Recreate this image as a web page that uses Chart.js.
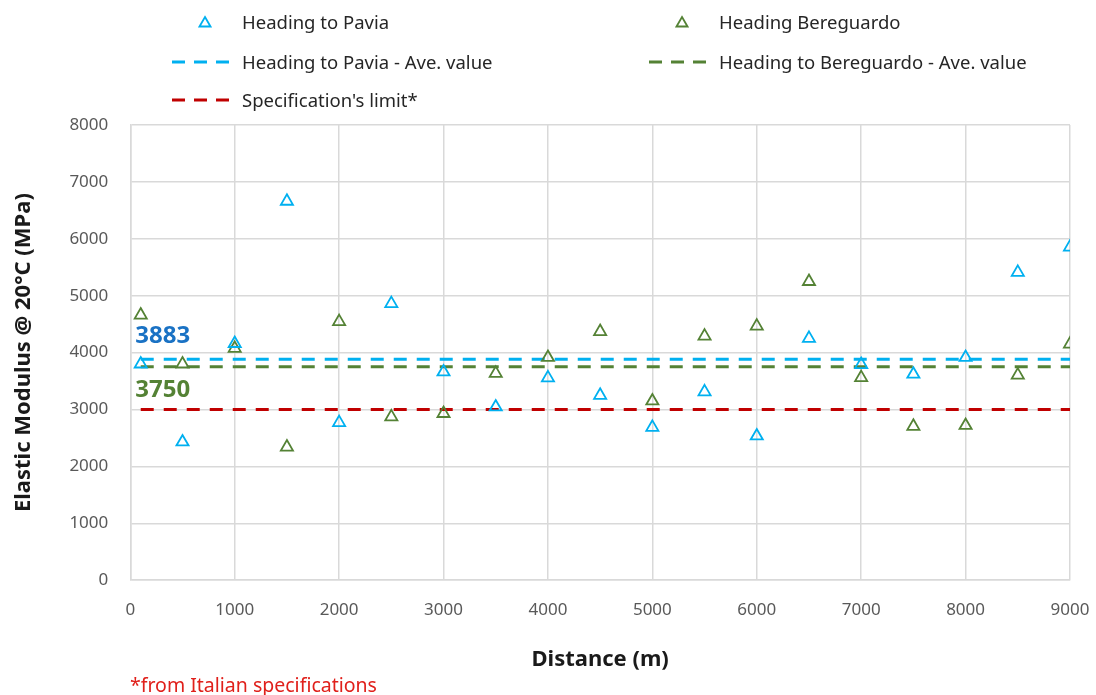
<!DOCTYPE html>
<html>
<head>
<meta charset="utf-8">
<script src="https://cdn.jsdelivr.net/npm/chart.js@4/dist/chart.umd.min.js"></script>
<style>
  body { margin: 0; background: #fff; font-family: "Noto Sans", sans-serif; }
  #wrap { position: relative; width: 1096px; height: 695px; }
  #chart { position: absolute; left: 0; top: 0; }
  .leg { position: absolute; font-size: 18.5px; color: #262626; white-space: nowrap; line-height: 22px; }
  .leg svg { position: absolute; }
  #note { position: absolute; left: 130px; top: 671px; font-size: 19.5px; color: #e0201b; }
</style>
</head>
<body>
<div id="wrap">
  <canvas id="chart" width="1096" height="695"></canvas>
  <div id="legend"></div>
  <div id="note">*from Italian specifications</div>
</div>
<script>
// Distances along the road (m)
const distances = [100, 500, 1000, 1500, 2000, 2500, 3000, 3500, 4000, 4500,
                   5000, 5500, 6000, 6500, 7000, 7500, 8000, 8500, 9000];
// Elastic modulus @ 20°C (MPa)
const pavia = [3800, 2430, 4160, 6660, 2770, 4860, 3660, 3045, 3555, 3250,
               2685, 3310, 2535, 4250, 3790, 3620, 3915, 5410, 5855];
const bereguardo = [4660, 3800, 4075, 2340, 4545, 2870, 2930, 3635, 3915, 4370,
                    3150, 4290, 4465, 5250, 3560, 2705, 2720, 3605, 4150];
const paviaAvg = 3883;
const bereguardoAvg = 3750;
const specLimit = 3000;
const lineRange = [100, 9000];

const xTicks = [0, 1000, 2000, 3000, 4000, 5000, 6000, 7000, 8000, 9000];
const yTicks = [0, 1000, 2000, 3000, 4000, 5000, 6000, 7000, 8000];

const blue = '#00b0f0';
const green = '#548235';
const red = '#c00000';

function pts(xs, ys) {
    return xs.map(function(x, i) { return { x: x, y: ys[i] }; });
}
function flat(v) {
    return lineRange.map(function(x) { return { x: x, y: v }; });
}

// Legend (HTML)
const legendItems = [
    { text: 'Heading to Pavia', color: blue, kind: 'tri', x: 242, y: 11 },
    { text: 'Heading Bereguardo', color: green, kind: 'tri', x: 719, y: 11 },
    { text: 'Heading to Pavia - Ave. value', color: blue, kind: 'dash', x: 242, y: 51 },
    { text: 'Heading to Bereguardo - Ave. value', color: green, kind: 'dash', x: 719, y: 51 },
    { text: "Specification's limit*", color: red, kind: 'dash', x: 242, y: 89 }
];
const legend = document.getElementById('legend');
legendItems.forEach(function(it) {
    const d = document.createElement('div');
    d.className = 'leg';
    d.style.left = it.x + 'px';
    d.style.top = it.y + 'px';
    d.textContent = it.text;
    let svg;
    if (it.kind === 'tri') {
        svg = '<svg width="14" height="14" style="left:-44px;top:4px">' +
              '<polygon points="7,2 12.5,11.5 1.5,11.5" fill="none" stroke="' + it.color + '" stroke-width="1.8"/></svg>';
    } else {
        svg = '<svg width="66" height="6" style="left:-70px;top:8px">' +
              '<line x1="0" y1="3" x2="64" y2="3" stroke="' + it.color + '" stroke-width="3" stroke-dasharray="13,9"/></svg>';
    }
    d.insertAdjacentHTML('beforeend', svg);
    legend.appendChild(d);
});

// average value labels
const avgLabels = {
    id: 'avgLabels',
    afterDatasetsDraw: function(chart) {
        const ctx = chart.ctx;
        const xs = chart.scales.x, ys = chart.scales.y;
        ctx.save();
        ctx.font = 'bold 24px "Noto Sans", sans-serif';
        ctx.textBaseline = 'middle';
        ctx.textAlign = 'left';
        ctx.fillStyle = '#1a72c4';
        ctx.fillText(String(paviaAvg), xs.getPixelForValue(0) + 5, ys.getPixelForValue(paviaAvg) - 23);
        ctx.fillStyle = green;
        ctx.fillText(String(bereguardoAvg), xs.getPixelForValue(0) + 5, ys.getPixelForValue(bereguardoAvg) + 23);
        ctx.restore();
    }
};

const tickFont = { family: '"Noto Sans", sans-serif', size: 17 };
const titleFont = { family: '"Noto Sans", sans-serif', size: 22, weight: 'bold' };
const plain = function(v) { return String(v); };

new Chart(document.getElementById('chart').getContext('2d'), {
    type: 'scatter',
    data: {
        datasets: [
            { label: 'Heading to Pavia', data: pts(distances, pavia), showLine: false,
              pointStyle: 'triangle', pointRadius: 7, pointBorderWidth: 1.8,
              borderColor: blue, backgroundColor: 'rgba(0,0,0,0)', order: 1 },
            { label: 'Heading Bereguardo', data: pts(distances, bereguardo), showLine: false,
              pointStyle: 'triangle', pointRadius: 7, pointBorderWidth: 1.8,
              borderColor: green, backgroundColor: 'rgba(0,0,0,0)', order: 2 },
            { label: 'Heading to Pavia - Ave. value', data: flat(paviaAvg), showLine: true,
              pointRadius: 0, borderColor: blue, borderWidth: 3, borderDash: [13, 10], order: 3 },
            { label: 'Heading to Bereguardo - Ave. value', data: flat(bereguardoAvg), showLine: true,
              pointRadius: 0, borderColor: green, borderWidth: 3, borderDash: [13, 10], order: 4 },
            { label: "Specification's limit*", data: flat(specLimit), showLine: true,
              pointRadius: 0, borderColor: red, borderWidth: 3, borderDash: [13, 10], order: 5 }
        ]
    },
    options: {
        responsive: false,
        animation: false,
        layout: { padding: { top: 125, right: 0, bottom: 18, left: 7 } },
        plugins: { legend: { display: false }, tooltip: { enabled: false } },
        scales: {
            x: {
                type: 'linear', min: 0, max: 9000,
                afterBuildTicks: function(s) { s.ticks = xTicks.map(function(v) { return { value: v }; }); },
                afterFit: function(s) { s.paddingRight = 26; },
                grid: { color: '#d9d9d9', lineWidth: 1.5, drawTicks: false },
                border: { color: '#d9d9d9', width: 1.5 },
                ticks: { font: tickFont, color: '#595959', padding: 20, maxRotation: 0, callback: plain },
                title: { display: true, text: 'Distance (m)', font: titleFont, color: '#1a1a1a', padding: { top: 6 } }
            },
            y: {
                min: 0, max: 8000,
                afterBuildTicks: function(s) { s.ticks = yTicks.map(function(v) { return { value: v }; }); },
                grid: { color: '#d9d9d9', lineWidth: 1.5, drawTicks: false },
                border: { color: '#d9d9d9', width: 1.5 },
                ticks: { font: tickFont, color: '#595959', padding: 22, callback: plain },
                title: { display: true, text: 'Elastic Modulus @ 20°C (MPa)', font: titleFont, color: '#1a1a1a', padding: { bottom: 10 } }
            }
        }
    },
    plugins: [avgLabels]
});
</script>
</body>
</html>
